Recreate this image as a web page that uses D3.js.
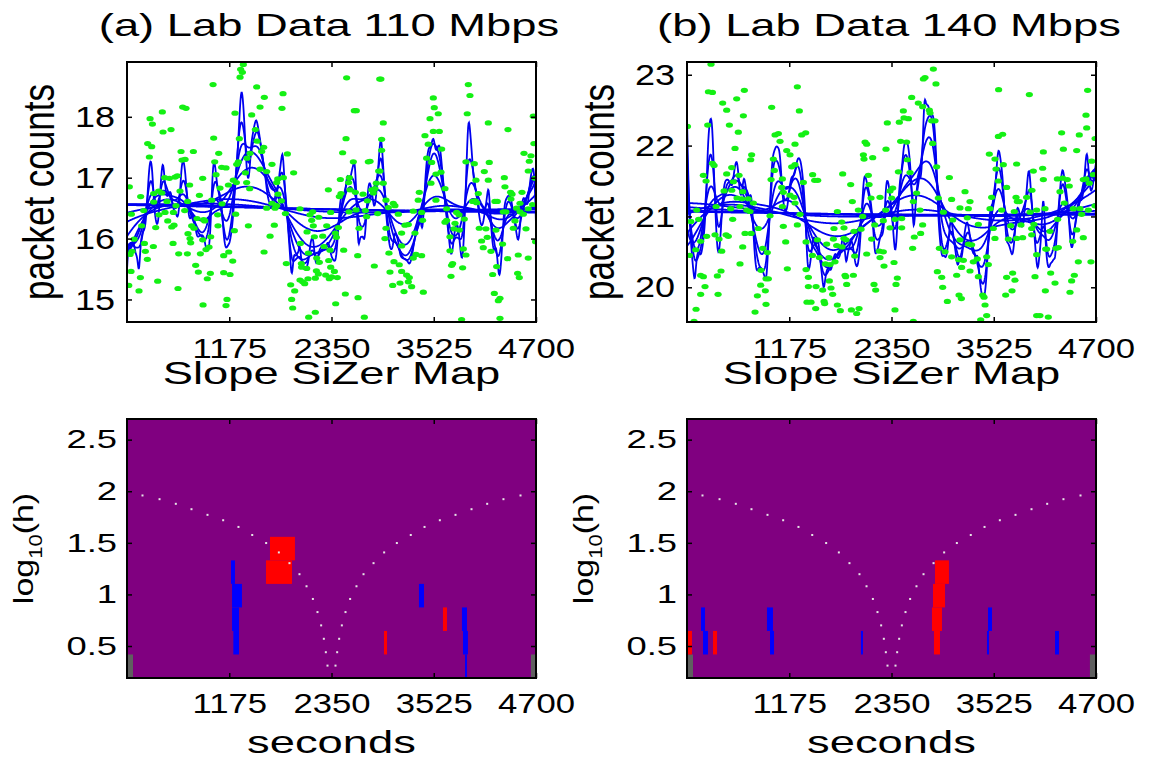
<!DOCTYPE html>
<html><head><meta charset="utf-8">
<script src="https://cdn.jsdelivr.net/npm/d3@7"></script>
<style>
body{margin:0;background:#fff}
svg{display:block}
text{font-family:"Liberation Sans",Arial,Helvetica,sans-serif;fill:#000}
</style>
</head><body>
<svg id="c" width="1151" height="758"></svg>
<script>
// ---------------- data ----------------
const titles = ["(a) Lab Data 110 Mbps", "(b) Lab Data 140 Mbps"];
const xTicks = [1175, 2350, 3525, 4700];
const yTicksA = [15, 16, 17, 18];
const yTicksB = [20, 21, 22, 23];
const hTicks = [0.5, 1, 1.5, 2, 2.5];
const xDomain = [0, 4700];
const yDomainA = [14.63, 18.9];
const yDomainB = [19.51, 23.18];
const hDomain = [0.19, 2.70];
const binSeconds = 11.75;              // one data bin, in seconds (h is measured in bins)
const logH = [0.304, 0.532, 0.760, 0.988, 1.216, 1.444, 1.672, 1.900, 2.128, 2.356, 2.584];

// (seconds, packet count) points
const packetsA = [[1337,18.86],[1306,18.78],[1326,18.73],[1299,18.65],[2524,18.64],[2904,18.62],[989,18.53],[1490,18.49],[1578,18.32],[1793,18.38],[640,18.16],[678,18.14],[1781,18.14],[406,18.08],[1241,18.06],[1529,18.16],[2612,18.10],[2635,18.10],[265,17.97],[292,17.88],[1433,18.03],[414,17.75],[506,17.79],[1475,17.79],[996,17.65],[1291,17.64],[2517,17.64],[238,17.56],[284,17.51],[1494,17.60],[1571,17.50],[1548,17.43],[621,17.43],[763,17.43],[1054,17.40],[1414,17.40],[1843,17.39],[2478,17.41],[257,17.34],[632,17.29],[667,17.30],[1008,17.26],[1261,17.22],[1280,17.26],[1379,17.32],[2773,17.26],[2793,17.27],[2601,17.26],[1088,17.17],[1138,17.16],[1666,17.22],[1529,17.14],[1605,17.10],[2892,17.11],[1915,17.08],[1023,17.05],[1360,17.08],[1222,16.96],[1257,16.92],[1375,16.92],[433,17.00],[487,16.99],[552,17.01],[579,17.03],[870,16.99],[720,16.88],[1732,16.98],[1797,17.00],[1720,16.92],[2452,16.97],[2555,17.00],[2547,16.92],[2865,16.91],[2850,16.82],[27,16.85],[307,16.74],[364,16.78],[399,16.75],[609,16.78],[832,16.71],[1069,16.83],[1165,16.88],[1410,16.82],[2314,16.80],[2563,16.80],[2624,16.76],[2712,16.73],[2812,16.80],[2831,16.75],[157,16.69],[307,16.60],[460,16.61],[563,16.54],[697,16.61],[973,16.63],[1092,16.57],[1666,16.58],[1774,16.62],[1735,16.73],[2440,16.69],[2459,16.74],[2762,16.62],[50,16.40],[192,16.46],[368,16.39],[437,16.43],[533,16.43],[663,16.46],[805,16.33],[881,16.31],[1042,16.39],[1249,16.40],[1605,16.50],[1701,16.50],[1720,16.54],[1820,16.41],[1988,16.49],[2134,16.44],[2103,16.39],[2203,16.35],[2341,16.43],[2551,16.44],[2632,16.47],[2739,16.46],[2754,16.36],[2881,16.41],[169,16.21],[330,16.18],[468,16.29],[514,16.19],[540,16.22],[770,16.17],[743,16.21],[893,16.29],[1046,16.21],[1234,16.13],[1395,16.21],[1693,16.22],[2122,16.30],[2141,16.21],[2295,16.21],[2429,16.18],[2666,16.17],[81,15.99],[701,16.08],[724,16.00],[870,15.98],[962,16.03],[1644,16.04],[2069,16.11],[2153,16.03],[2249,16.04],[2394,16.09],[200,15.92],[303,15.87],[529,15.92],[732,15.93],[943,15.86],[1992,15.92],[2264,15.87],[2406,16.02],[58,15.79],[211,15.79],[594,15.75],[694,15.75],[843,15.75],[908,15.82],[1111,15.72],[1169,15.78],[1575,15.78],[2084,15.76],[2180,15.68],[2333,15.81],[2490,15.81],[2651,15.72],[35,15.74],[234,15.66],[1215,15.63],[1831,15.59],[2004,15.59],[2210,15.61],[2318,15.64],[2842,15.55],[789,15.56],[2007,15.53],[2065,15.51],[2176,15.47],[2341,15.53],[2383,15.46],[46,15.46],[820,15.45],[958,15.43],[1111,15.44],[1184,15.41],[2199,15.42],[2283,15.40],[2352,15.37],[2417,15.36],[154,15.36],[353,15.30],[923,15.34],[1988,15.32],[2019,15.29],[2080,15.34],[2164,15.35],[2325,15.34],[20,15.23],[1881,15.24],[1927,15.14],[2042,15.26],[138,15.14],[586,15.18],[2509,15.09],[1149,15.00],[874,14.91],[1138,14.90],[1892,15.00],[2398,14.93],[2655,15.03],[1904,14.86],[2164,14.79],[2088,14.71],[2727,14.71],
[2918,18.62],[3922,18.53],[3941,18.35],[3520,18.31],[3531,18.15],[3577,18.05],[3482,17.97],[4669,18.01],[3910,18.05],[2945,17.90],[4152,17.90],[4378,17.79],[3424,17.69],[3520,17.76],[3589,17.76],[2926,17.63],[4676,17.56],[3462,17.55],[2926,17.45],[4562,17.40],[4642,17.36],[3616,17.47],[3443,17.32],[3501,17.25],[3895,17.26],[3991,17.23],[4163,17.25],[4623,17.27],[2907,17.11],[3608,17.09],[3550,17.06],[4106,17.10],[4611,17.11],[4688,16.99],[4010,16.96],[4152,16.96],[4336,17.00],[2945,16.91],[3493,16.91],[3654,16.82],[3359,16.76],[2976,16.63],[3347,16.63],[3550,16.63],[4037,16.74],[4408,16.76],[4424,16.73],[4539,16.76],[4343,16.85],[3060,16.58],[3079,16.54],[3003,16.51],[3972,16.61],[3999,16.62],[4018,16.59],[4228,16.61],[4255,16.61],[4412,16.65],[4516,16.58],[3118,16.40],[3290,16.45],[3386,16.43],[3673,16.49],[3788,16.43],[3815,16.39],[4324,16.44],[4355,16.44],[4516,16.44],[4554,16.40],[4611,16.49],[4661,16.56],[4477,16.50],[4458,16.29],[3397,16.30],[3654,16.27],[3673,16.30],[3876,16.32],[3769,16.25],[2976,16.17],[3194,16.22],[3233,16.23],[3309,16.09],[3156,16.09],[3757,16.16],[3819,16.14],[3711,16.03],[4048,16.17],[4125,16.16],[4240,16.14],[4439,16.17],[4585,16.16],[4140,16.02],[4075,15.96],[4316,15.91],[4695,15.95],[2964,16.00],[3321,15.74],[3386,15.72],[3290,15.68],[3156,15.88],[3711,15.80],[3865,15.83],[3895,15.73],[4094,15.85],[4182,15.79],[4496,15.73],[4611,15.68],[4374,15.67],[3010,15.76],[3068,15.62],[3129,15.57],[3742,15.59],[3730,15.56],[3857,15.52],[4248,15.54],[3022,15.45],[3156,15.46],[3213,15.40],[3244,15.36],[3723,15.38],[4202,15.41],[4489,15.43],[4508,15.36],[3053,15.23],[3137,15.27],[3233,15.29],[3271,15.21],[3183,15.13],[3405,15.12],[4221,15.10],[4286,15.02],[4267,14.98],[3845,14.67],[4286,14.69]];

// (seconds, packet count) points
const packetsB = [[276,23.15],[246,22.76],[292,22.75],[659,22.78],[1268,22.83],[410,22.60],[456,22.50],[571,22.66],[973,22.54],[1291,22.49],[648,22.42],[5,22.27],[238,22.29],[487,22.29],[590,22.19],[1012,22.15],[1050,22.17],[1318,22.15],[1364,22.18],[552,21.96],[743,21.87],[732,21.80],[1069,22.06],[1241,22.02],[1146,21.93],[1184,21.87],[2046,22.05],[2065,22.02],[2027,21.87],[2034,21.81],[2134,21.83],[292,21.75],[311,21.72],[514,21.69],[992,21.81],[1004,21.65],[1203,21.70],[1241,21.73],[188,21.58],[219,21.50],[456,21.60],[533,21.49],[598,21.58],[966,21.52],[1088,21.41],[1096,21.53],[1444,21.59],[1467,21.51],[1502,21.51],[1337,21.48],[1789,21.60],[2084,21.58],[1881,21.45],[426,21.36],[514,21.37],[640,21.35],[1184,21.30],[1230,21.27],[1107,21.34],[2092,21.45],[2115,21.26],[1900,21.21],[334,21.14],[575,21.26],[629,21.25],[705,21.25],[763,21.19],[1241,21.19],[1096,21.14],[609,21.14],[686,21.09],[724,21.07],[502,21.11],[1299,21.03],[1728,21.07],[1969,21.09],[43,20.93],[112,21.09],[134,20.96],[525,20.96],[954,21.01],[1268,20.88],[1107,20.86],[1689,20.83],[1778,20.92],[1804,20.84],[2019,21.00],[2157,20.88],[226,20.72],[157,20.65],[322,20.74],[368,20.68],[449,20.74],[475,20.72],[667,20.76],[736,20.76],[820,20.83],[1134,20.64],[1368,20.64],[1498,20.67],[1605,20.61],[1682,20.68],[1804,20.69],[1827,20.67],[1919,20.79],[2000,20.82],[2122,20.68],[27,20.45],[100,20.53],[399,20.51],[640,20.57],[870,20.55],[923,20.49],[1441,20.45],[1521,20.42],[1632,20.42],[1720,20.59],[1781,20.57],[1927,20.44],[2065,20.47],[2210,20.51],[1701,20.36],[1590,20.33],[1644,20.32],[391,20.23],[157,20.17],[188,20.15],[349,20.16],[609,20.33],[851,20.24],[1153,20.26],[1368,20.25],[935,20.12],[908,20.12],[1395,20.14],[1636,20.09],[1816,20.17],[1912,20.17],[1824,20.15],[2149,20.04],[207,20.01],[847,20.03],[1395,20.01],[1483,20.01],[1559,19.96],[1655,19.99],[2168,19.96],[1835,20.04],[157,19.90],[357,19.90],[809,19.88],[900,19.95],[1674,19.90],[1379,19.79],[1425,19.79],[1575,19.80],[1582,19.77],[1728,19.75],[908,19.76],[104,19.69],[782,19.65],[1479,19.70],[1762,19.67],[1889,19.68],[1977,19.70],[1950,19.63],[81,19.52],
[2831,23.08],[2735,22.96],[2716,22.94],[2861,22.87],[3581,22.79],[3934,22.72],[4604,22.78],[2582,22.68],[2658,22.60],[2708,22.55],[2486,22.49],[2494,22.39],[2544,22.38],[2785,22.50],[2793,22.46],[2812,22.35],[2850,22.35],[2302,22.32],[2440,22.33],[4585,22.43],[4593,22.25],[3578,22.13],[3627,22.16],[4305,22.18],[4508,22.15],[4690,22.10],[2455,22.06],[2524,22.05],[2287,21.95],[2823,22.03],[4095,21.91],[4325,21.95],[4478,21.93],[3474,21.88],[3539,21.81],[2532,21.80],[3635,21.73],[3788,21.74],[3980,21.64],[4087,21.68],[3551,21.67],[2429,21.63],[2563,21.62],[2869,21.70],[4650,21.78],[4669,21.59],[3015,21.55],[4095,21.52],[4256,21.53],[4317,21.54],[4370,21.52],[4393,21.43],[3578,21.50],[3673,21.41],[4554,21.52],[4585,21.53],[4623,21.47],[4286,21.35],[2218,21.27],[2364,21.40],[2333,21.36],[2639,21.33],[3195,21.35],[2888,21.26],[3041,21.24],[3781,21.27],[3903,21.27],[3964,21.37],[3501,21.27],[4688,21.15],[2352,21.26],[2601,21.21],[2678,21.09],[2946,21.06],[3137,21.12],[3233,21.11],[3252,21.21],[3616,21.09],[3761,21.07],[3796,21.21],[3942,21.06],[4018,21.09],[4114,21.11],[3482,21.11],[3819,21.21],[4336,21.19],[4439,21.11],[4516,21.11],[4612,21.09],[2256,20.94],[2467,20.97],[2390,20.96],[2283,21.09],[2333,20.84],[2467,20.84],[3053,20.95],[3221,20.98],[3348,20.89],[3520,20.83],[3719,20.87],[3838,20.88],[3961,20.83],[3987,20.89],[4171,20.79],[4259,20.96],[4535,21.03],[2708,20.88],[2685,20.76],[2612,20.71],[3137,20.67],[3271,20.60],[3539,20.69],[3693,20.68],[3788,20.69],[3857,20.70],[3961,20.74],[4133,20.54],[4478,20.81],[4554,20.70],[4432,20.65],[2256,20.50],[2218,20.42],[2264,20.30],[2379,20.35],[2593,20.55],[2900,20.55],[2965,20.50],[3041,20.43],[3122,20.39],[3176,20.38],[3156,20.28],[3336,20.40],[3444,20.43],[3463,20.32],[3290,20.36],[3252,20.23],[3233,20.61],[4018,20.46],[4122,20.54],[4267,20.56],[4240,20.55],[4497,20.36],[4642,20.36],[2877,20.22],[2927,20.14],[3099,20.17],[2417,20.13],[2402,20.04],[2938,20.00],[3348,20.15],[3673,20.14],[3742,20.20],[3769,20.10],[3999,20.15],[4179,20.20],[4229,20.06],[4451,20.17],[4420,20.09],[3126,19.89],[3153,19.84],[2992,19.80],[3662,19.89],[3735,19.95],[4118,19.95],[4401,19.93],[3398,19.89],[3413,19.86],[2390,19.68],[2601,19.52],[3444,19.60],[4018,19.60],[4056,19.60],[4152,19.58],[3375,19.54],[3425,19.75]];

// SiZer cells: [row (bandwidth index), start s, end s, kind]
const sizerA = [
  [0,0,69,"sparse"],[0,4642,4700,"sparse"],
  [4,1195,1241,"up"],[3,1207,1321,"up"],[2,1207,1287,"up"],[1,1222,1287,"up"],
  [5,1643,1930,"down"],[4,1597,1896,"down"],
  [1,2953,2988,"down"],[3,3355,3413,"up"],[2,3631,3677,"down"],
  [2,3849,3907,"up"],[1,3861,3918,"up"],[0,3884,3907,"up"]];
const sizerB = [
  [0,0,69,"sparse"],[0,4630,4700,"sparse"],
  [1,0,57,"down"],[2,161,207,"up"],[1,184,241,"up"],[1,299,345,"down"],
  [2,919,988,"up"],[1,954,1000,"up"],[1,1999,2022,"up"],
  [4,2850,3010,"down"],[3,2827,2965,"down"],[2,2815,2930,"down"],[1,2838,2907,"down"],
  [2,3459,3505,"up"],[1,3447,3470,"up"],[1,4229,4275,"up"]];

// dotted "window" curve: log10(h) vs half width (s) around the centre
const windowCenter = 2350;
const windowLogH = [1.959,1.923,1.878,1.826,1.771,1.719,1.654,1.576,1.498,1.407,1.303,1.196,1.079,0.956,0.829,0.700,0.570,0.440,0.310];
const windowHalf = [2172,1976,1789,1609,1425,1245,1069,911,751,605,483,368,287,214,161,119,88,65,46];

// ---------------- layout ----------------
const colX = [127, 687], plotW = 409;
const topY = [62, 322], botY = [419, 678];
const sizerColor = {up:"#0000ff", down:"#ff0000", sparse:"#5f5f5f"};
const FONT_BIG = 31.5, STRETCH_BIG = 1.44;

const svg = d3.select("#c");

function stretch(sel, s){
  sel.attr("transform", function(){
    const x = +this.getAttribute("x") || 0, y = +this.getAttribute("y") || 0;
    return `translate(${x},${y}) scale(${s},1) translate(${-x},${-y})`;
  });
}
function label(x, y, str, fs, s){
  svg.append("text").attr("x", x).attr("y", y).attr("text-anchor","middle")
    .attr("font-size", fs).text(str).call(stretch, s);
}
function vlabel(x, y, fs, s){
  return svg.append("g").attr("transform", `translate(${x},${y}) scale(${s},1) rotate(-90)`)
    .append("text").attr("text-anchor","middle").attr("font-size", fs);
}

// local linear Gaussian kernel smoother
function smooth(pts, hSec, grid){
  return grid.map(x0 => {
    let s0=0,s1=0,s2=0,t0=0,t1=0;
    for (const [x,y] of pts){
      const d = x - x0, w = Math.exp(-0.5*(d/hSec)*(d/hSec));
      s0+=w; s1+=w*d; s2+=w*d*d; t0+=w*y; t1+=w*d*y;
    }
    const den = s0*s2 - s1*s1;
    const v = den > 1e-9*s0*s2 ? (s2*t0 - s1*t1)/den : t0/s0;
    return [x0, v];
  });
}

const plain = d => String(d);

function frameAxes(g, x, y, y0, y1, yTicks, opt){
  const ax = g.append("g").attr("transform", `translate(0,${y1})`)
    .call(d3.axisBottom(x).tickValues(xTicks).tickFormat(plain).tickSizeInner(-5).tickSizeOuter(0).tickPadding(opt.xPad));
  ax.selectAll("text").attr("font-size", 28).call(stretch, 1.24);
  g.append("g").attr("transform", `translate(0,${y0})`)
    .call(d3.axisTop(x).tickValues(xTicks).tickSizeInner(-5).tickSizeOuter(0).tickFormat(""));
  const ay = g.append("g").attr("transform", `translate(${x.range()[0]},0)`)
    .call(d3.axisLeft(y).tickValues(yTicks).tickFormat(plain).tickSizeInner(-5).tickSizeOuter(0).tickPadding(opt.yPad));
  ay.selectAll("text").attr("font-size", opt.yFont).call(stretch, opt.yStretch);
  g.append("g").attr("transform", `translate(${x.range()[1]},0)`)
    .call(d3.axisRight(y).tickValues(yTicks).tickSizeInner(-5).tickSizeOuter(0).tickFormat(""));
  g.selectAll(".domain").remove();
  g.selectAll(".tick line").attr("stroke","#000").attr("stroke-width",1.5);
  g.selectAll("g").attr("font-family", null);
  g.append("rect").attr("x", x.range()[0]).attr("y", y0)
    .attr("width", x.range()[1]-x.range()[0]).attr("height", y1-y0)
    .attr("fill","none").attr("stroke","#000").attr("stroke-width",2);
}

const grid = d3.range(0, 4701, 5);

[[packetsA, yDomainA, yTicksA, sizerA], [packetsB, yDomainB, yTicksB, sizerB]].forEach(([pts, yDom, yT, cells], i) => {
  const x0 = colX[i];
  const x = d3.scaleLinear(xDomain, [x0, x0 + plotW]);
  const cx = x0 + plotW/2;

  // ---------- top panel ----------
  const y = d3.scaleLinear(yDom, [topY[1], topY[0]]);
  const g = svg.append("g");
  const clipId = "clipT" + i;
  g.append("clipPath").attr("id", clipId).append("rect")
    .attr("x", x0).attr("y", topY[0]).attr("width", plotW).attr("height", topY[1]-topY[0]);
  const plot = g.append("g").attr("clip-path", `url(#${clipId})`);
  const line = d3.line().x(d => x(d[0])).y(d => y(d[1]));
  logH.forEach(lh => {
    plot.append("path").datum(smooth(pts, Math.pow(10, lh)*binSeconds, grid))
      .attr("d", line).attr("fill","none").attr("stroke","#0000f0").attr("stroke-width",1.8);
  });
  plot.selectAll("ellipse").data(pts).join("ellipse")
    .attr("cx", d => x(d[0])).attr("cy", d => y(d[1]))
    .attr("rx", 3.6).attr("ry", 2.6).attr("fill", "#14f014");
  frameAxes(g, x, y, topY[0], topY[1], yT, {xPad:16, yPad:12, yFont:30, yStretch:1.2});

  label(cx - 2.5, 36, titles[i], FONT_BIG, STRETCH_BIG);
  label(cx, 384, "Slope SiZer Map", FONT_BIG, STRETCH_BIG);
  vlabel(x0 - 73, (topY[0]+topY[1])/2, 35, 1.27).text("packet counts");

  // ---------- SiZer map ----------
  const yh = d3.scaleLinear(hDomain, [botY[1], botY[0]]);
  const half = 0.114;
  const gb = svg.append("g");
  gb.append("rect").attr("x", x0).attr("y", botY[0]).attr("width", plotW).attr("height", botY[1]-botY[0])
    .attr("fill", "#800080");
  gb.selectAll("rect.cell").data(cells).join("rect").attr("class","cell")
    .attr("x", d => x(d[1])).attr("width", d => Math.max(1.5, x(d[2]) - x(d[1])))
    .attr("y", d => yh(logH[d[0]] + half)).attr("height", d => yh(logH[d[0]] - half) - yh(logH[d[0]] + half))
    .attr("fill", d => sizerColor[d[3]]);
  const dots = windowLogH.flatMap((lh, k) => [[windowCenter - windowHalf[k], lh], [windowCenter + windowHalf[k], lh]]);
  gb.selectAll("rect.dot").data(dots).join("rect").attr("class","dot")
    .attr("x", d => x(d[0]) - 1).attr("y", d => yh(d[1]) - 1).attr("width", 2).attr("height", 2)
    .attr("fill", "#e6e6e6");
  frameAxes(gb, x, yh, botY[0], botY[1], hTicks, {xPad:15, yPad:10, yFont:26, yStretch:1.4});
  label(cx, 753, "seconds", FONT_BIG, STRETCH_BIG);
  const lt = vlabel(x0 - 94, (botY[0]+botY[1])/2, 34, 0.8);
  lt.append("tspan").text("log");
  lt.append("tspan").attr("font-size", 22).attr("dy", 11).text("10");
  lt.append("tspan").attr("dy", -11).text("(h)");
});
</script>
</body></html>
